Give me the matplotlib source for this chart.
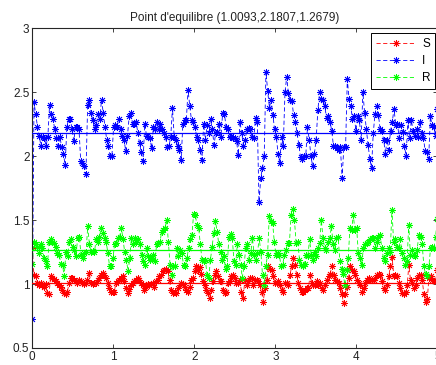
import numpy as np
import matplotlib
matplotlib.use("Agg")
import matplotlib.pyplot as plt

# trajectoires S, I, R, t de 0 a 5
S = [1.28, 1.07, 1.06, 1.01, 0.99, 1.01, 0.99, 0.98, 1.00, 0.93, 0.92, 1.06, 1.05, 1.04, 1.02, 1.01,
     0.99, 0.98, 0.95, 0.93, 0.92, 0.94, 1.01, 1.05, 1.05, 1.03, 1.02, 1.01, 1.03, 1.02, 1.01, 1.00,
     1.01, 1.03, 1.09, 1.01, 1.00, 1.01, 1.01, 1.03, 1.05, 1.07, 1.09, 1.07, 1.05, 1.01, 0.97, 0.94,
     0.94, 0.94, 1.01, 1.02, 1.03, 1.05, 1.06, 1.02, 0.97, 0.93, 0.96, 0.99, 1.01, 1.02,
     1.03, 1.05, 1.03, 1.01, 0.99, 0.95, 0.98, 1.00, 0.99, 1.00, 1.01, 0.98, 1.02, 1.03, 1.06, 1.07,
     1.10, 1.11, 1.12, 1.10, 1.03, 0.95, 0.93, 0.94, 0.93, 0.97, 0.99, 1.01, 1.00, 0.98, 0.95, 0.94,
     0.98, 1.03, 1.05, 1.10, 1.14, 1.11, 1.13, 1.08, 1.02, 0.99, 0.95, 0.93, 0.89, 0.95, 1.02, 1.07,
     1.10, 1.06, 1.02, 1.02, 0.95, 0.93, 0.94, 1.01, 1.02, 1.06, 1.07, 1.05, 1.01,
     1.01, 1.03, 0.94, 0.89, 1.03, 0.99, 1.02, 1.05, 1.05, 0.99, 1.03, 1.03, 1.02, 0.99, 0.94, 0.86,
     0.97, 1.03, 1.14, 1.12, 1.11, 1.06, 1.01, 1.01, 1.02, 0.99, 0.95, 0.94, 1.01, 1.01, 0.99, 1.07,
     1.14, 1.20, 1.15, 1.07, 1.01, 0.97, 0.94, 0.94, 0.95, 0.97, 0.97, 1.07, 1.01, 0.99, 0.99, 1.02,
     0.99, 1.01, 0.97, 0.95, 0.99, 1.03, 1.06, 1.08, 1.14, 1.07, 1.03, 1.02, 1.01,
     0.97, 0.92, 0.85, 0.92, 0.98, 1.05, 1.14, 1.11, 1.10, 1.07, 1.03, 1.01, 0.99, 0.94, 0.97, 1.01,
     1.03, 1.05, 1.03, 1.03, 1.03, 1.05, 1.07, 1.08, 1.07, 1.02, 0.97, 0.95, 0.99, 1.06, 1.14, 1.21,
     1.06, 1.07, 1.06, 1.01, 0.97, 0.93, 0.92, 0.94, 0.99, 1.15, 1.03, 1.01, 0.97, 0.99, 1.05, 1.07,
     1.07, 1.03, 0.92, 0.86, 0.88, 1.05, 1.06, 1.03, 1.02, 1.03, 1.11]

I = [0.73, 2.42, 2.33, 2.23, 2.16, 2.08, 2.15, 2.14, 2.08, 2.15, 2.40, 2.33, 2.29, 2.21, 2.14, 2.08,
     2.15, 2.07, 2.02, 1.93, 2.23, 2.29, 2.29, 2.21, 2.12, 2.23, 2.23, 2.21, 1.96, 1.95, 1.92, 1.86,
     2.40, 2.44, 2.34, 2.28, 2.21, 2.24, 2.33, 2.29, 2.44, 2.34, 2.23, 2.13, 2.08, 2.00, 2.00, 2.23,
     2.24, 2.23, 2.29, 2.21, 2.16, 2.13, 2.04, 2.16, 2.31, 2.34, 2.25, 2.25, 2.27, 2.18, 2.10, 2.03,
     1.96, 2.25, 2.16,
     2.15, 2.14, 2.06, 2.23, 2.21, 2.27, 2.21, 2.25, 2.21, 2.18, 2.15, 2.07, 2.08, 2.15, 2.38, 2.15,
     2.13, 2.08, 2.05, 1.97, 2.25, 2.28, 2.28, 2.52, 2.39, 2.28, 2.27, 2.23, 2.15, 2.13, 2.05, 1.97,
     2.25, 2.13, 2.24, 2.18, 2.29, 2.21, 2.09, 2.18, 2.19, 2.25, 2.15, 2.34, 2.33, 2.23, 2.21, 2.15,
     2.16, 2.14, 2.14, 2.12, 2.01, 2.27, 2.18, 2.08, 2.13, 2.21, 2.22, 2.21, 2.15, 2.14, 2.30, 2.27,
     1.64, 1.83, 1.91, 2.00, 2.66, 2.51, 2.38, 2.44, 2.32, 2.21, 2.15, 2.02, 1.95, 2.15, 2.08,
     2.50, 2.62, 2.49, 2.44, 2.43, 2.32, 2.27, 2.18, 2.09, 1.99, 1.98, 2.00, 2.00, 2.23, 2.13, 2.00,
     1.92, 2.02, 2.13, 2.36, 2.50, 2.45, 2.44, 2.39, 2.30, 2.31, 2.27, 2.20, 2.08, 2.08, 2.06, 2.05,
     2.07, 1.83, 2.07, 2.07, 2.60, 2.45, 2.39, 2.29, 2.31, 2.20, 2.31, 2.28, 2.13, 2.50, 2.34, 2.21,
     2.09, 1.98, 1.91, 2.18, 2.33, 2.39, 2.32, 2.21, 2.20, 2.13, 2.02, 2.13, 2.05, 2.20, 2.27, 2.37,
     2.24, 2.25, 2.14, 2.24, 2.19, 2.08, 2.00, 2.28, 2.14, 2.28, 2.20, 2.16, 2.21, 2.15, 2.27, 2.18,
     2.14, 2.04, 2.03, 1.98, 2.31, 2.24, 2.23, 2.16, 2.37]

R = [1.16, 1.33, 1.31, 1.29, 1.24, 1.31, 1.28, 1.20, 1.18, 1.14, 1.33, 1.35, 1.33, 1.32, 1.29, 1.24,
     1.23, 1.16, 1.15, 1.06, 1.25, 1.22, 1.33, 1.35, 1.29, 1.27, 1.22, 1.36, 1.37, 1.23, 1.20, 1.24,
     1.25, 1.45, 1.31, 1.25, 1.26, 1.25, 1.35, 1.33, 1.37, 1.44, 1.40, 1.36, 1.33, 1.24, 1.14, 1.14,
     1.20, 1.31, 1.32, 1.36, 1.37, 1.44, 1.35, 1.25, 1.19, 1.10, 1.20, 1.36, 1.31,
     1.36, 1.33, 1.35, 1.31, 1.23, 1.18, 1.15, 1.28, 1.22, 1.19, 1.20, 1.23, 1.18, 1.31, 1.32, 1.33,
     1.41, 1.42, 1.44, 1.50, 1.33, 1.15, 1.07, 1.14, 1.14, 1.28, 1.22, 1.27, 1.24, 1.15, 1.14, 1.20,
     1.28, 1.35, 1.38, 1.55, 1.54, 1.46, 1.44, 1.31, 1.19, 1.18, 1.19, 1.07, 1.05, 1.19, 1.29, 1.40,
     1.49, 1.41, 1.31, 1.25, 1.19, 1.22, 1.12, 1.14, 1.37, 1.39, 1.36, 1.18, 1.15,
     1.31, 1.23, 1.15, 1.05, 1.14, 1.28, 1.31, 1.19, 1.24, 1.36, 1.23, 1.19, 1.24, 1.36, 1.25, 1.07,
     0.99, 1.14, 1.23, 1.53, 1.49, 1.48, 1.33, 1.23, 1.24, 1.23, 1.14, 1.15, 1.23, 1.27, 1.32, 1.32,
     1.54, 1.59, 1.50, 1.32, 1.33, 1.19, 1.15, 1.14, 1.16, 1.23, 1.22, 1.35, 1.23, 1.19, 1.25, 1.22,
     1.28, 1.32, 1.50, 1.36, 1.28, 1.27, 1.33, 1.36, 1.45, 1.31, 1.27, 1.36, 1.37,
     1.18, 1.12, 1.08, 0.99, 1.11, 1.20, 1.44, 1.42, 1.54, 1.42, 1.44, 1.24, 1.20, 1.15, 1.28, 1.31,
     1.32, 1.33, 1.35, 1.36, 1.36, 1.28, 1.33, 1.37, 1.38, 1.28, 1.20, 1.18, 1.24, 1.28, 1.25, 1.58,
     1.33, 1.35, 1.29, 1.28, 1.35, 1.24, 1.20, 1.15, 1.18, 1.46, 1.23, 1.27, 1.23, 1.22, 1.27, 1.38,
     1.37, 1.31, 1.14, 1.08, 1.06, 1.14, 1.28, 1.29, 1.28, 1.37, 1.51]

equilibre = [1.0093, 2.1807, 1.2679]
noms = ["S", "I", "R"]
couleurs = ["#ff0000", "#0000ff", "#00ff00"]

plt.rcParams["font.family"] = ["Liberation Sans", "DejaVu Sans"]
fig = plt.figure(figsize=(4.36, 3.65), dpi=100)
ax = fig.add_axes([0.074, 0.0466, 0.929, 0.876])

etoile = (8, 2, 0)  # asterisque facon matlab
for y, nom, c in zip([S, I, R], noms, couleurs):
    t = np.linspace(0, 5, len(y))
    ax.plot(t, y, color=c, ls="--", dashes=(5, 3), lw=0.6,
            marker=etoile, ms=5, mew=0.6, label=nom)
for e, c in zip(equilibre, couleurs):
    ax.axhline(e, color=c, lw=0.9, zorder=3)

ax.set_xlim(0, 5)
ax.set_ylim(0.5, 3)
ax.set_xticks(range(6))
ax.set_yticks([0.5, 1, 1.5, 2, 2.5, 3])
ax.set_yticklabels(["0.5", "1", "1.5", "2", "2.5", "3"])
ax.tick_params(direction="in", top=True, right=True, length=3, width=0.6,
               labelsize=8.5, pad=2, colors="#222222")
for sp in ax.spines.values():
    sp.set_linewidth(0.8)
    sp.set_color("#262626")

ax.set_title("Point d'equilibre (%.4f,%.4f,%.4f)" % tuple(equilibre),
             fontsize=8.5, pad=5, color="#222222")

leg = ax.legend(loc="upper right", bbox_to_anchor=(0.995, 0.985), fancybox=False,
                edgecolor="black", framealpha=1, fontsize=8.5, handlelength=3.4,
                labelspacing=0.45, borderpad=0.4, handletextpad=0.5, borderaxespad=0)
leg.get_frame().set_linewidth(0.7)

fig.savefig("out.png", dpi=100)
